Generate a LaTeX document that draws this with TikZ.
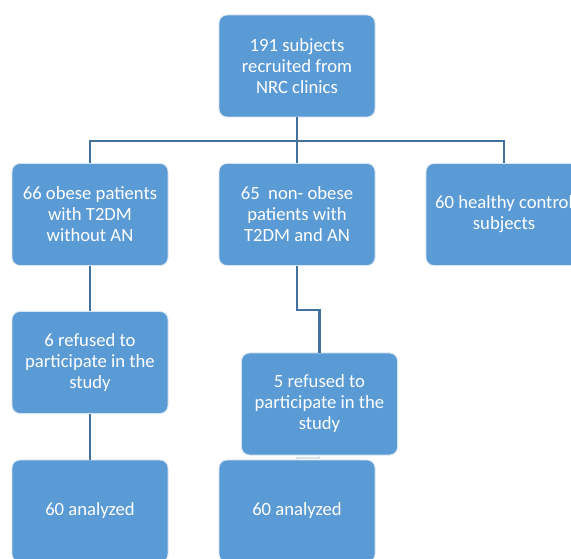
\documentclass[tikz,border=0pt]{standalone}
\usepackage{fontspec}
\setmainfont{Carlito}
\usepackage{tikz}
\usetikzlibrary{positioning, calc}
\definecolor{BoxFill}{RGB}{91,155,213}
\definecolor{BoxEdge}{RGB}{214,228,243}
\definecolor{LinkBlue}{RGB}{65,113,156}
\tikzset{
  flowbox/.style={
    rectangle, rounded corners=6pt,
    minimum width=117pt, minimum height=76.5pt,
    draw=BoxEdge, line width=0.6pt, fill=BoxFill,
    text=white, align=center,
    font=\fontsize{14}{15.75}\selectfont
  },
  conn/.style={draw=LinkBlue, line width=1.6pt}
}
\begin{document}
\begin{tikzpicture}[x=0.75pt, y=-0.75pt]

  % page frame
  \useasboundingbox (0,0) rectangle (571,559);
  \clip (0,0) rectangle (571,559);

  % Recruitment
  \node[flowbox] (recruit) at (297,66) {191 subjects\\recruited from\\NRC clinics};

  % Groups
  \node[flowbox] (obese)    at (90,214.5)  {66 obese patients\\with T2DM\\without AN};
  \node[flowbox] (nonobese) at (297,214.5) {65\ \ non- obese\\patients with\\T2DM and AN};
  \node[flowbox] (healthy)  at (504,214.5) {60 healthy control\\subjects};

  % Refusals
  \node[flowbox] (refuseA) at (90,362.5)  {6 refused to\\participate in the\\study};
  \node[flowbox] (refuseB) at (319.5,404) {5 refused to\\participate in the\\study};

  % Analysed
  \node[flowbox] (doneA) at (90,511)  {60 analyzed};
  \node[flowbox] (doneB) at (297,511) {60 analyzed};

  % Branching from top
  \coordinate (split) at (297,141);
  \draw[conn] (recruit.south) -- (split);
  \draw[conn] (split) -| (obese.north);
  \draw[conn] (split) -- (nonobese.north);
  \draw[conn] (split) -| (healthy.north);

  % Columns
  \draw[conn] (obese.south) -- (refuseA.north);
  \draw[conn] (refuseA.south) -- (doneA.north);
  \draw[conn] (nonobese.south) -- ++(0,44) -| (refuseB.north);
  \draw[conn, draw=BoxEdge, line width=1pt] (refuseB.south) -- ++(0,2.5) -| (doneB.north);
\end{tikzpicture}
\end{document}
